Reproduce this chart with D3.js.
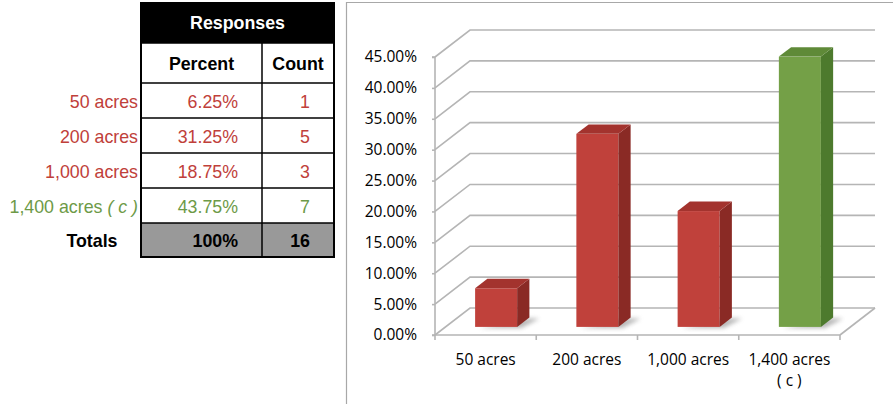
<!DOCTYPE html>
<html>
<head>
<meta charset="utf-8">
<script src="https://cdn.jsdelivr.net/npm/d3@7/dist/d3.min.js"></script>
<style>
  html, body { margin: 0; padding: 0; background: #ffffff; }
  svg { display: block; }
</style>
</head>
<body>
<svg id="chart" width="893" height="404"></svg>
<script>
// ---------- data ----------
const categories = ["50 acres", "200 acres", "1,000 acres", "1,400 acres ( c )"];
const tableLabels = ["50 acres", "200 acres", "1,000 acres", "1,400 acres"];
const tableLabelSuffix = ["", "", "", " ( c )"];
const percents = [0.0625, 0.3125, 0.1875, 0.4375];
const counts = [1, 5, 3, 7];
const totalPercentLabel = "100%";
const totalCountLabel = "16";
const yTicks = [0, 0.05, 0.10, 0.15, 0.20, 0.25, 0.30, 0.35, 0.40, 0.45];
const isHighlight = [false, false, false, true];

// ---------- styles ----------
const red = { front: "#c0413b", side: "#8a2a25", top: "#a3332e", text: "#c0403a" };
const green = { front: "#74a047", side: "#4d7a2d", top: "#5f8a38", text: "#6d9a47" };
const gridColor = "#b5b5b5";

const svg = d3.select("#chart");

// ---------- table ----------
const T = { x0: 141, x1: 334, xMid: 262, top: 3, headBot: 43, sub: 83, rowH: 35 };
const tableFont = "'Liberation Sans', Arial, sans-serif";
const fs = 17.8;
const tg = svg.append("g");

// header
tg.append("rect").attr("x", T.x0).attr("y", T.top).attr("width", T.x1 - T.x0).attr("height", T.headBot - T.top).attr("fill", "#000");
tg.append("text").attr("x", (T.x0 + T.x1) / 2).attr("y", 29).attr("text-anchor", "middle")
  .attr("font-family", tableFont).attr("font-size", fs).attr("font-weight", "bold").attr("fill", "#fff").text("Responses");

const rowsTop = T.sub;
const nRows = categories.length;
const totalsTop = rowsTop + nRows * T.rowH;
const tableBottom = totalsTop + 34;

// totals row fill
tg.append("rect").attr("x", T.x0).attr("y", totalsTop).attr("width", T.x1 - T.x0).attr("height", tableBottom - totalsTop).attr("fill", "#999999");

// lines
const hLines = [T.headBot, T.sub];
for (let i = 1; i <= nRows; i++) hLines.push(rowsTop + i * T.rowH);
tg.selectAll("line.h").data(hLines).join("line")
  .attr("x1", T.x0).attr("x2", T.x1).attr("y1", d => d).attr("y2", d => d)
  .attr("stroke", "#000").attr("stroke-width", 1.5);
tg.append("line").attr("x1", T.xMid).attr("x2", T.xMid).attr("y1", T.headBot).attr("y2", tableBottom).attr("stroke", "#000").attr("stroke-width", 1.5);
tg.append("rect").attr("x", T.x0).attr("y", T.top).attr("width", T.x1 - T.x0).attr("height", tableBottom - T.top)
  .attr("fill", "none").attr("stroke", "#000").attr("stroke-width", 2);

// subheader
tg.append("text").attr("x", (T.x0 + T.xMid) / 2).attr("y", 70).attr("text-anchor", "middle")
  .attr("font-family", tableFont).attr("font-size", fs).attr("font-weight", "bold").attr("fill", "#000").text("Percent");
tg.append("text").attr("x", (T.xMid + T.x1) / 2).attr("y", 70).attr("text-anchor", "middle")
  .attr("font-family", tableFont).attr("font-size", fs).attr("font-weight", "bold").attr("fill", "#000").text("Count");

const pctFmt = d3.format(".2%");
const rows = tg.selectAll("g.row").data(categories).join("g");
rows.each(function (c, i) {
  const g = d3.select(this);
  const base = rowsTop + i * T.rowH + 24.5;
  const col = isHighlight[i] ? green.text : red.text;
  const lab = g.append("text").attr("x", 138).attr("y", base).attr("text-anchor", "end")
    .attr("font-family", tableFont).attr("font-size", fs).attr("fill", col);
  lab.append("tspan").text(tableLabels[i]);
  if (tableLabelSuffix[i]) lab.append("tspan").attr("font-style", "italic").text(tableLabelSuffix[i]);
  g.append("text").attr("x", 238).attr("y", base).attr("text-anchor", "end")
    .attr("font-family", tableFont).attr("font-size", fs).attr("fill", col).text(pctFmt(percents[i]));
  g.append("text").attr("x", 310).attr("y", base).attr("text-anchor", "end")
    .attr("font-family", tableFont).attr("font-size", fs).attr("fill", col).text(counts[i]);
});
const totBase = totalsTop + 23.5;
tg.append("text").attr("x", 92).attr("y", totBase).attr("text-anchor", "middle")
  .attr("font-family", tableFont).attr("font-size", fs).attr("font-weight", "bold").attr("fill", "#000").text("Totals");
tg.append("text").attr("x", 238).attr("y", totBase).attr("text-anchor", "end")
  .attr("font-family", tableFont).attr("font-size", fs).attr("font-weight", "bold").attr("fill", "#000").text(totalPercentLabel);
tg.append("text").attr("x", 310).attr("y", totBase).attr("text-anchor", "end")
  .attr("font-family", tableFont).attr("font-size", fs).attr("font-weight", "bold").attr("fill", "#000").text(totalCountLabel);

// ---------- chart frame ----------
svg.append("line").attr("x1", 346.5).attr("x2", 346.5).attr("y1", 2).attr("y2", 404).attr("stroke", "#a8a8a8").attr("stroke-width", 1.2);
svg.append("line").attr("x1", 346).attr("x2", 893).attr("y1", 2.5).attr("y2", 2.5).attr("stroke", "#a8a8a8").attr("stroke-width", 1.2);

// ---------- 3D bar chart ----------
const chartFont = "'Open Sans', sans-serif";
const y = d3.scaleLinear().domain([0, 0.45]).range([335, 57]);
const x = d3.scaleBand().domain(categories).range([435, 840]).paddingInner(0.585).paddingOuter(0.2925);
const depth = { dx: 35, dy: -27 };
const barFront = 0.3, barDepth = 0.35;
const fdx = depth.dx * barFront, fdy = depth.dy * barFront;
const ddx = depth.dx * barDepth, ddy = depth.dy * barDepth;
const xL = x.range()[0], xR = x.range()[1];

const cg = svg.append("g");

// walls: gridlines (left side diagonal + back horizontal)
cg.selectAll("path.grid").data(yTicks).join("path")
  .attr("d", d => `M${xL},${y(d)} L${xL + depth.dx},${y(d) + depth.dy} L${xR + depth.dx},${y(d) + depth.dy}`)
  .attr("fill", "none").attr("stroke", gridColor).attr("stroke-width", 1.6);
// floor right edge
cg.append("path").attr("d", `M${xR},${y(0)} L${xR + depth.dx},${y(0) + depth.dy}`)
  .attr("fill", "none").attr("stroke", gridColor).attr("stroke-width", 1.6);

// y axis
const yAxis = d3.axisLeft(y).tickValues(yTicks).tickFormat(d3.format(".2%")).tickSize(3).tickPadding(15);
const yg = cg.append("g").attr("transform", `translate(${xL},0)`).call(yAxis);
yg.select(".domain").attr("stroke", gridColor).attr("stroke-width", 1.6).attr("d", `M-3,${y(0.45)}H0V${y(0)}H-3`);
yg.selectAll(".tick line").attr("stroke", gridColor).attr("stroke-width", 1.6);
yg.selectAll(".tick text").attr("font-family", chartFont).attr("font-size", 15.5).attr("fill", "#000");

// x axis baseline and boundary ticks
const bounds = d3.range(categories.length + 1).map(i => xL + i * x.step());
cg.append("line").attr("x1", xL).attr("x2", xR).attr("y1", y(0)).attr("y2", y(0)).attr("stroke", gridColor).attr("stroke-width", 1.6);
cg.selectAll("line.xt").data(bounds).join("line")
  .attr("x1", d => d).attr("x2", d => d).attr("y1", y(0)).attr("y2", y(0) + 5)
  .attr("stroke", gridColor).attr("stroke-width", 1.6);

// category labels
const xAxis = d3.axisBottom(x).tickSize(0).tickPadding(0);
const xg = cg.append("g").attr("transform", `translate(0,${y(0)})`).call(xAxis);
xg.select(".domain").remove();
xg.selectAll(".tick text").each(function (d) {
  const t = d3.select(this);
  t.text(null).attr("font-family", chartFont).attr("font-size", 15.5).attr("fill", "#000").attr("dy", null).attr("y", 0);
  const m = d.match(/^(.*acres)\s*(.*)$/);
  const lines = m && m[2] ? [m[1], m[2]] : [d];
  lines.forEach((ln, k) => t.append("tspan").attr("x", 0).attr("y", 29.5 + k * 21).text(ln));
});

// shadows
const defs = svg.append("defs");
defs.append("filter").attr("id", "blur").attr("x", "-50%").attr("y", "-50%").attr("width", "200%").attr("height", "200%")
  .append("feGaussianBlur").attr("stdDeviation", 2);

const bars = cg.selectAll("g.bar").data(categories).join("g");
bars.each(function (c, i) {
  const g = d3.select(this);
  const col = isHighlight[i] ? green : red;
  const x0 = x(c) + fdx, x1 = x0 + x.bandwidth();
  const yT = y(percents[i]) + fdy, yB = y(0) + fdy;
  // shadow on floor
  g.append("path")
    .attr("d", `M${x0 + 4},${yB + 1} L${x1 + 4},${yB + 1} L${x1 + ddx + 10},${yB + ddy + 1} L${x1 + ddx - 2},${yB + ddy + 1} Z`)
    .attr("fill", "#7a7a7a").attr("opacity", 0.55).attr("filter", "url(#blur)");
  // front
  g.append("rect").attr("x", x0).attr("y", yT).attr("width", x1 - x0).attr("height", yB - yT).attr("fill", col.front);
  // side
  g.append("path").attr("d", `M${x1},${yT} L${x1 + ddx},${yT + ddy} L${x1 + ddx},${yB + ddy} L${x1},${yB} Z`).attr("fill", col.side);
  // top
  g.append("path").attr("d", `M${x0},${yT} L${x0 + ddx},${yT + ddy} L${x1 + ddx},${yT + ddy} L${x1},${yT} Z`).attr("fill", col.top);
});
</script>
</body>
</html>
